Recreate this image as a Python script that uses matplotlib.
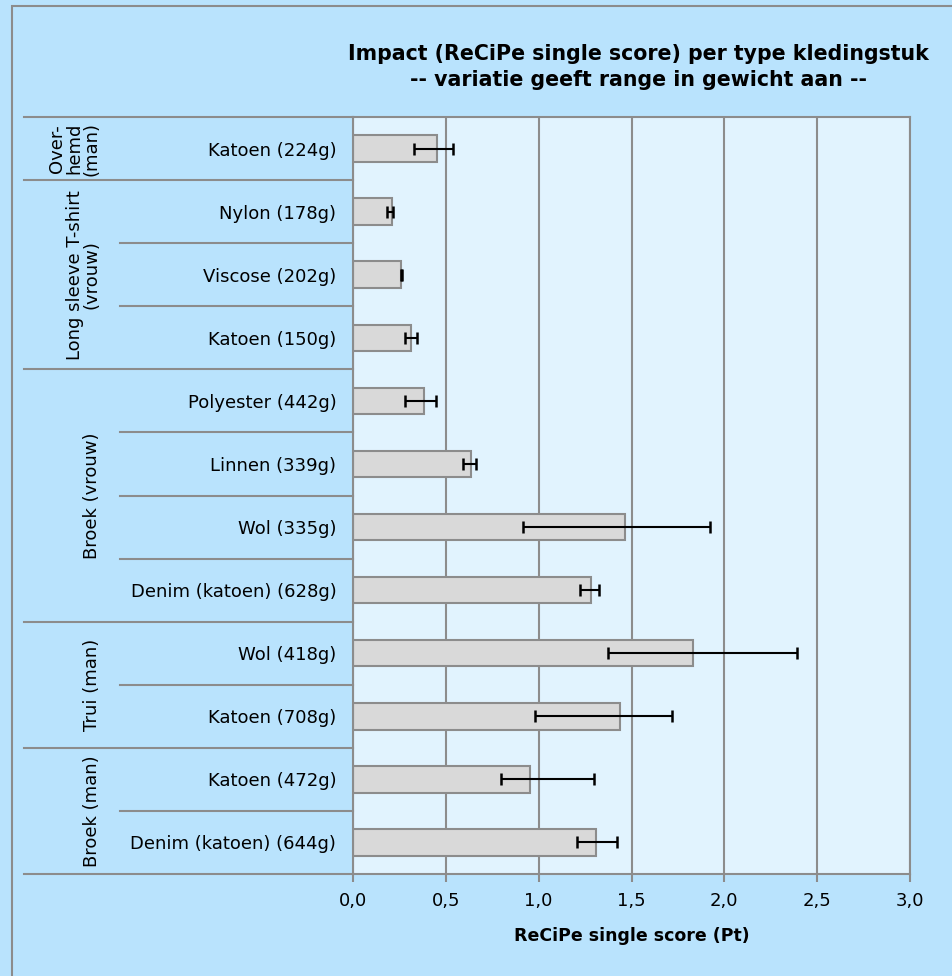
import matplotlib
matplotlib.use("Agg")
import matplotlib.pyplot as plt
import matplotlib.transforms as mtransforms
from matplotlib.patches import Rectangle
import numpy as np

# data, van boven naar beneden
labels = ["Katoen (224g)", "Nylon (178g)", "Viscose (202g)", "Katoen (150g)",
          "Polyester (442g)", "Linnen (339g)", "Wol (335g)", "Denim (katoen) (628g)",
          "Wol (418g)", "Katoen (708g)", "Katoen (472g)", "Denim (katoen) (644g)"]
scores = [0.45, 0.21, 0.26, 0.31, 0.38, 0.635, 1.465, 1.28, 1.83, 1.44, 0.955, 1.31]
err_low = [0.33, 0.185, 0.257, 0.28, 0.28, 0.59, 0.915, 1.22, 1.375, 0.98, 0.795, 1.205]
err_high = [0.54, 0.217, 0.262, 0.345, 0.445, 0.665, 1.925, 1.325, 2.39, 1.72, 1.30, 1.42]

groups = ["Over-\nhemd\n(man)", "Long sleeve T-shirt\n(vrouw)", "Broek (vrouw)",
          "Trui (man)", "Broek (man)"]
group_sizes = [1, 3, 4, 2, 2]

xticks = [0.0, 0.5, 1.0, 1.5, 2.0, 2.5, 3.0]

fig_bg = "#B9E3FD"
ax_bg = "#E1F3FE"
grijs = "#8C8C8C"

plt.rcParams['font.family'] = ['DejaVu Sans']

W, H = 953, 976
fig = plt.figure(figsize=(W / 100, H / 100), dpi=100, facecolor=fig_bg)

# rand om de hele figuur (rechts en onder valt buiten beeld)
fig.patches.append(Rectangle((12 / W, -0.05), 1.1, 1.05 - 6 / H,
                             transform=fig.transFigure, facecolor="none",
                             edgecolor=grijs, linewidth=1.5))

ax_l, ax_r, ax_t, ax_b = 353, 910, 117, 874
ax = fig.add_axes([ax_l / W, 1 - ax_b / H, (ax_r - ax_l) / W, (ax_b - ax_t) / H])
ax.set_facecolor(ax_bg)

y = np.arange(len(labels))
# errorbars rond het midden van de range
centers = (np.array(err_low) + np.array(err_high)) / 2
half = (np.array(err_high) - np.array(err_low)) / 2

ax.set_axisbelow(True)
ax.barh(y, scores, height=0.42, color="#D9D9D9", edgecolor=grijs, linewidth=1.5, zorder=2)
ax.errorbar(centers, y, xerr=half, fmt="none", ecolor="black", elinewidth=1.5,
            capsize=4.5, capthick=1.8, zorder=3)

ax.set_xlim(0, 3.0)
ax.set_ylim(len(labels) - 0.5, -0.5)
ax.set_xticks(xticks)
ax.set_xticklabels([f"{v:.1f}".replace(".", ",") for v in xticks], fontsize=13)
ax.xaxis.grid(True, color=grijs, linewidth=1.5)
ax.tick_params(axis="x", length=6, width=1.5, color=grijs, pad=7)
ax.set_xlabel("ReCiPe single score (Pt)", fontsize=12.5, fontweight="bold", labelpad=12)

ax.set_yticks(y)
ax.set_yticklabels(labels, fontsize=13)
ax.tick_params(axis="y", length=0, pad=12)

for s in ["left", "bottom", "top", "right"]:
    ax.spines[s].set_color(grijs)
    ax.spines[s].set_linewidth(1.5)

# tabel met groepen links
trans = mtransforms.blended_transform_factory(ax.transAxes, ax.transData)
x_groep = (24 - ax_l) / (ax_r - ax_l)
x_sub = (120 - ax_l) / (ax_r - ax_l)
x_tekst = (101 - ax_l) / (ax_r - ax_l)

start = 0
grenzen = [-0.5]
for g, n in zip(groups, group_sizes):
    eind = start + n
    grenzen.append(eind - 0.5)
    for k in range(start + 1, eind):
        ax.plot([x_sub, 0], [k - 0.5, k - 0.5], color=grijs, linewidth=1.5,
                transform=trans, clip_on=False)
    ax.text(x_tekst, (start + eind - 1) / 2, g, rotation=90, ha="right", va="center",
            multialignment="center", fontsize=13, linespacing=0.95,
            transform=trans)
    start = eind
for b in grenzen:
    ax.plot([x_groep, 0], [b, b], color=grijs, linewidth=1.5,
            transform=trans, clip_on=False)

fig.text(638 / W, 1 - 67 / H,
         "Impact (ReCiPe single score) per type kledingstuk\n-- variatie geeft range in gewicht aan --",
         ha="center", va="center", fontsize=14.8, fontweight="bold", linespacing=1.4)

fig.savefig("out.png", dpi=100, facecolor=fig_bg)
